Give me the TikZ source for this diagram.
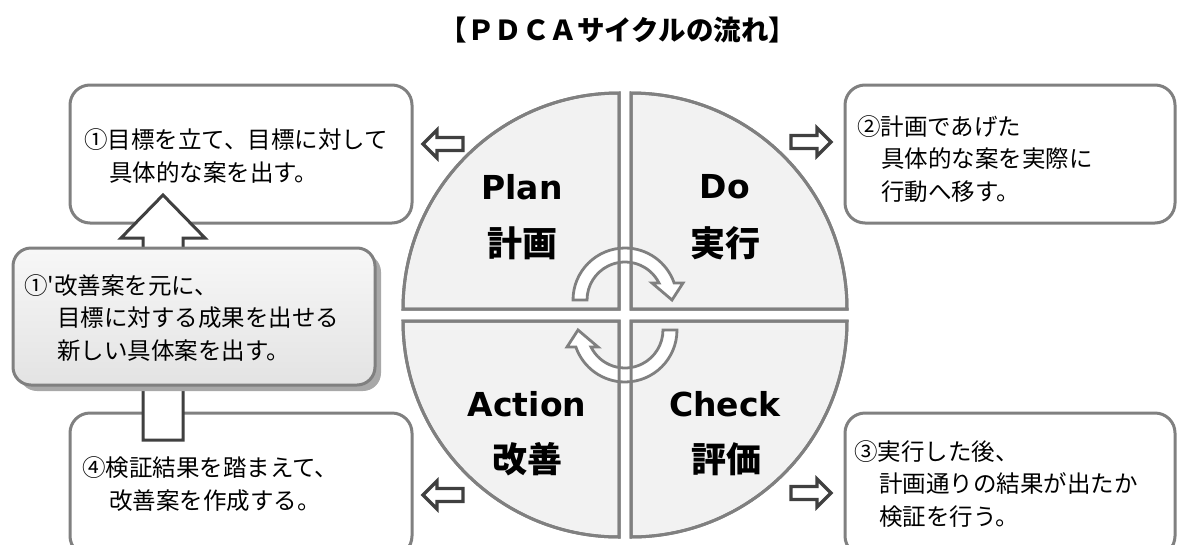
\documentclass[tikz,border=0pt]{standalone}
\usepackage{fontspec}
\setmainfont{Noto Sans CJK JP}
\newfontfamily\jp{Noto Sans CJK JP}
\newfontfamily\dv{DejaVu Sans}
\definecolor{qgray}{HTML}{808080}
\definecolor{qfill}{HTML}{F2F2F2}
\definecolor{adark}{HTML}{404040}
\definecolor{shgray}{HTML}{A8A8A8}
\begin{document}
\begin{tikzpicture}[x=1pt,y=-1pt,
  box/.style={draw=qgray, line width=3pt, fill=white, rounded corners=20pt},
  quad/.style={draw=qgray, line width=3pt, fill=qfill},
  quadline/.style={draw=qgray, line width=3pt},
  cyc/.style={draw=qgray, line width=2.8pt, fill=white, line join=miter},
  harr/.style={draw=adark, line width=3.3pt, fill=white, line join=miter},
  body/.style={font=\jp\fontsize{23.5}{32.5}\selectfont, align=left, inner sep=0pt, anchor=west},
  lat/.style={font=\dv\bfseries\fontsize{33}{36}\selectfont, inner sep=0pt},
  cjk/.style={font=\jp\bfseries\fontsize{35}{38}\selectfont, inner sep=0pt},
  harrow/.pic={\draw[harr] (-20,-6.5) -- (6,-6.5) -- (6,-14) -- (20,0) -- (6,14) -- (6,6.5) -- (-20,6.5) -- cycle;}
]
\useasboundingbox (0,0) rectangle (1177,544);
\clip (0,0) rectangle (1177,544);

% outer boxes
\draw[box] (70,85) rectangle (412,223);
\draw[box] (70,413) rectangle (412,556);
\draw[box] (845,85) rectangle (1175,223);
\draw[box] (845,413) rectangle (1175,556);

% quadrants
\newcommand{\quadpaths}[1]{%
  \path[#1] (619,309) -- ++(-216,0) arc[start angle=180,end angle=270,radius=216] -- cycle;
  \path[#1] (631,309) -- ++(0,-216) arc[start angle=270,end angle=360,radius=216] -- cycle;
  \path[#1] (631,321) -- ++(216,0) arc[start angle=0,end angle=90,radius=216] -- cycle;
  \path[#1] (619,321) -- ++(0,216) arc[start angle=90,end angle=180,radius=216] -- cycle;}
\quadpaths{quad}

% circular arrows
\newcommand{\cycarrow}{%
  \draw[cyc] (573,300) arc[start angle=180,end angle=341,radius=52]
    -- (683,283) -- (672,300) -- (652,283) -- (659,283)
    arc[start angle=333.4,end angle=180,radius=38] -- cycle;}
\cycarrow
\begin{scope}[rotate around={180:(625,315)}]
\cycarrow
\end{scope}
\quadpaths{quadline}

% quadrant labels
\node[lat] (plan) at (522,187) {Plan};
\node[cjk] (plank) at (522,243) {計画};
\node[lat] (do) at (725,187) {Do};
\node[cjk] (dok) at (725,243) {実行};
\node[lat] (action) at (527,404) {Action};
\node[cjk] (actionk) at (527,459) {改善};
\node[lat] (check) at (725,404) {Check};
\node[cjk] (checkk) at (726,459) {評価};

% small hollow arrows
\pic[rotate=180] at (443,144) {harrow};
\pic[rotate=180] at (443,495) {harrow};
\pic at (811,142) {harrow};
\pic at (811,493) {harrow};

% big up arrow
\draw[harr, line width=3pt] (143,440) -- (143,238) -- (121,238) -- (163,195) -- (205,238) -- (183,238) -- (183,440) -- cycle;

% improvement box with shadow
\fill[shgray, rounded corners=18pt] (19,254) rectangle (381,391);
\draw[draw=qgray, line width=3pt, rounded corners=18pt, top color=white!97!black, bottom color=white!89!black] (13,248) rectangle (375,385);

% title
\node[font=\jp\bfseries\fontsize{27.5}{30}\selectfont, inner sep=0pt] (title) at (618,30) {【ＰＤＣＡサイクルの流れ】};

% texts
\node[body] (t1) at (84,156) {①目標を立て、目標に対して\\\hspace*{25pt}具体的な案を出す。};
\node[body] (t2) at (857,159) {②計画であげた\\\hspace*{24pt}具体的な案を実際に\\\hspace*{24pt}行動へ移す。};
\node[body] (t3) at (854,484) {③実行した後、\\\hspace*{25pt}計画通りの結果が出たか\\\hspace*{25pt}検証を行う。};
\node[body] (t4) at (82,484) {④検証結果を踏まえて、\\\hspace*{27pt}改善案を作成する。};
\node[body] (t5) at (24,318) {①'改善案を元に、\\\hspace*{33pt}目標に対する成果を出せる\\\hspace*{33pt}新しい具体案を出す。};
\end{tikzpicture}
\end{document}
